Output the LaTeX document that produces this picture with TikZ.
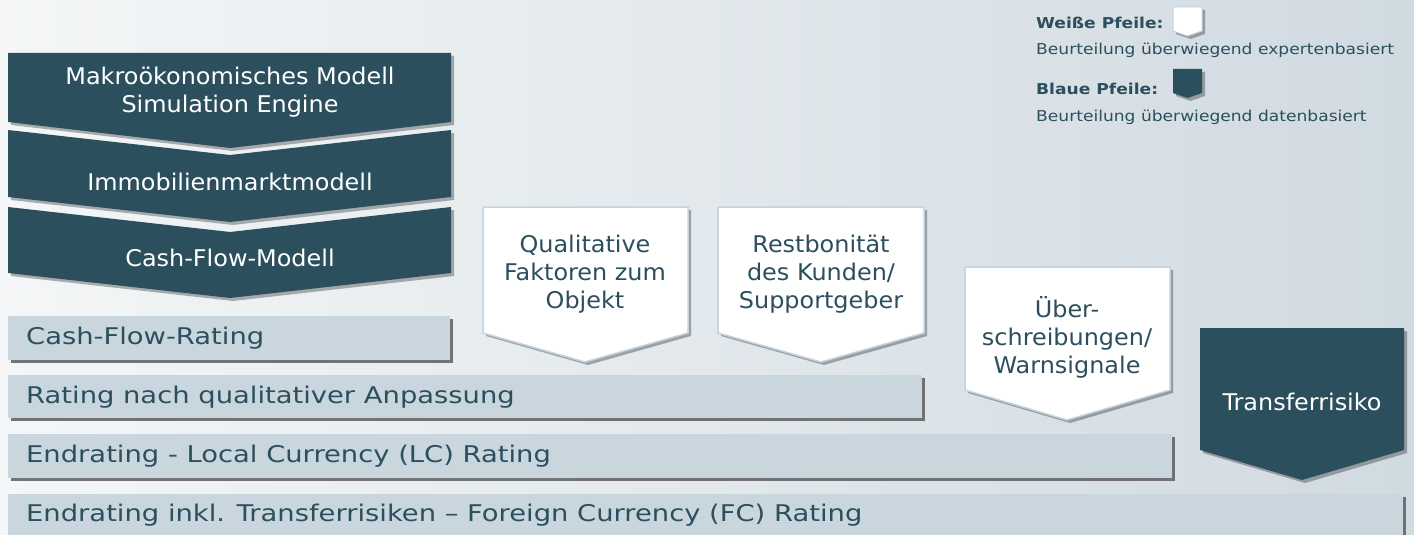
\documentclass[tikz,border=0pt]{standalone}
\usepackage{fontspec}
\setmainfont[FakeStretch=1.04]{DejaVu Sans}
\newfontfamily\widefont[FakeStretch=1.19]{DejaVu Sans}
\newfontfamily\legendfont[FakeStretch=1.14]{DejaVu Sans}
\usetikzlibrary{shadows}

\definecolor{petrol}{RGB}{44,79,94}
\definecolor{barblue}{RGB}{201,214,221}
\definecolor{rimblue}{RGB}{196,212,222}
\definecolor{bgleft}{RGB}{244,246,247}
\definecolor{bgright}{RGB}{208,218,225}

\begin{document}
\begin{tikzpicture}[x=1pt, y=-1pt,
                    every node/.style={text=petrol, align=center, inner sep=0pt,
                                       font=\fontsize{23}{28}\selectfont},
                    darkarrow/.style={fill=petrol, drop shadow={shadow xshift=3pt,
                                      shadow yshift=-3pt, fill=black, opacity=0.3}},
                    whitearrow/.style={fill=white, draw=rimblue, line width=1.5pt,
                                       drop shadow={shadow xshift=3pt, shadow yshift=-3pt,
                                       fill=black, opacity=0.3}},
                    bar/.style={fill=barblue, drop shadow={shadow xshift=3pt,
                                shadow yshift=-3pt, fill=black!60, opacity=0.9}},
                    bartext/.style={anchor=west, font=\widefont\fontsize{23}{28}\selectfont},
                    legend/.style={anchor=west, font=\legendfont\fontsize{15}{18}\selectfont}]
    \useasboundingbox (0,0) rectangle (1414,535);
    \shade[left color=bgleft, right color=bgright] (0,0) rectangle (1414,535);

    % dark chevrons
    \path[darkarrow] (8,53) -- (451,53) -- (451,122) -- (230,148) -- (8,122) -- cycle;
    \foreach \t/\b in {130/197, 207/273} {
            \path[darkarrow] (8,\t) -- (230,\t+25) -- (451,\t) -- (451,\b)
                -- (230,\b+25) -- (8,\b) -- cycle;
        }
    \node[text=white] (makro) at (230,92) {Makroökonomisches Modell\\Simulation Engine};
    \node[text=white] (immo) at (230,182) {Immobilienmarktmodell};
    \node[text=white] (cfm) at (230,258) {Cash-Flow-Modell};

    % white and dark arrows
    \path[whitearrow] (483,207) -- (688,207) -- (688,333) -- (585,362) -- (483,333) -- cycle;
    \path[whitearrow] (718,207) -- (924,207) -- (924,333) -- (821,362) -- (718,333) -- cycle;
    \path[whitearrow] (965,267) -- (1170,267) -- (1170,390) -- (1067,420) -- (965,390) -- cycle;
    \path[darkarrow] (1200,328) -- (1404,328) -- (1404,450) -- (1302,480) -- (1200,450) -- cycle;
    \node (qual) at (585,274) {Qualitative\\Faktoren zum\\Objekt};
    \node (rest) at (821,274) {Restbonität\\des Kunden/\\Supportgeber};
    \node (ueber) at (1067,337) {Über-\\schreibungen/\\Warnsignale};
    \node[text=white] (trans) at (1302,402) {Transferrisiko};

    % rating bars
    \path[bar] (8,316) rectangle (450,360);
    \path[bar] (8,375) rectangle (922,418);
    \path[bar] (8,434) rectangle (1172,478);
    \path[bar] (8,494) rectangle (1403,540);
    \node[bartext] (cfr) at (26,338) {Cash-Flow-Rating};
    \node[bartext] (qra) at (26,397) {Rating nach qualitativer Anpassung};
    \node[bartext] (lcr) at (26,456) {Endrating - Local Currency (LC) Rating};
    \node[bartext] (fcr) at (26,515) {Endrating inkl. Transferrisiken – Foreign Currency (FC) Rating};

    % legend
    \node[legend, font=\legendfont\fontsize{15}{18}\selectfont\bfseries] (weiss) at (1036,23) {Weiße Pfeile:};
    \node[legend] (expert) at (1036,50) {Beurteilung überwiegend expertenbasiert};
    \node[legend, font=\legendfont\fontsize{15}{18}\selectfont\bfseries] (blau) at (1036,89) {Blaue Pfeile:};
    \node[legend] (daten) at (1036,117) {Beurteilung überwiegend datenbasiert};
    \path[whitearrow, line width=1pt] (1173,7) -- (1202,7) -- (1202,31) -- (1187.5,36) -- (1173,31) -- cycle;
    \path[darkarrow] (1173,69) -- (1202,69) -- (1202,93) -- (1187.5,98) -- (1173,93) -- cycle;
\end{tikzpicture}
\end{document}
